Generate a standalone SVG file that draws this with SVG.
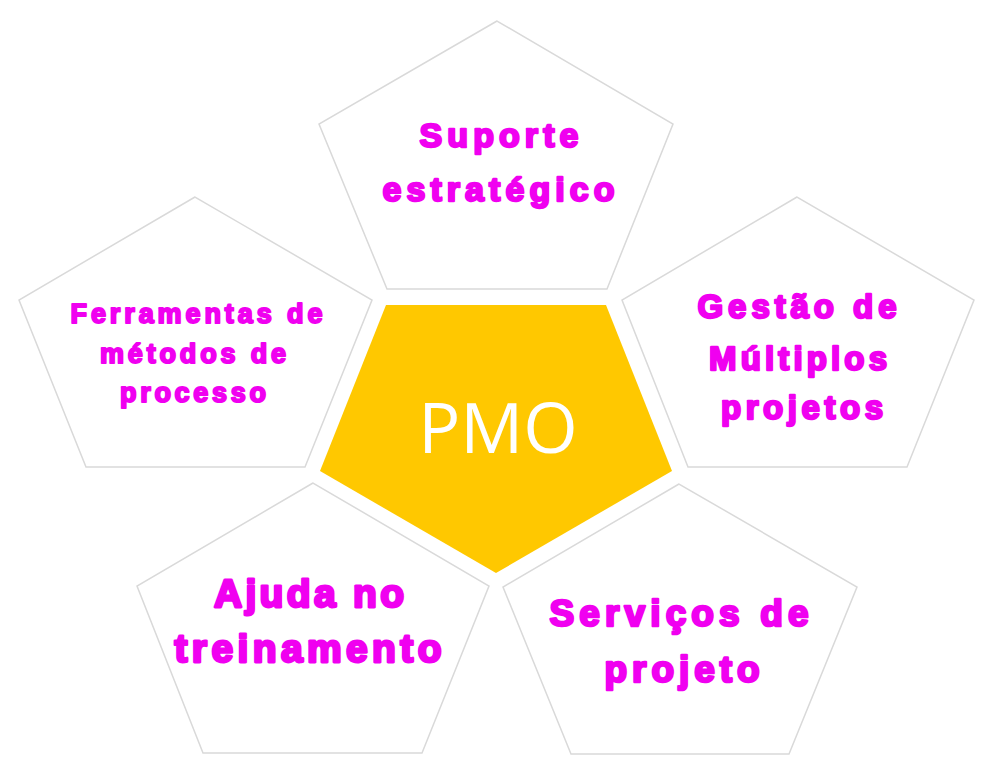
<svg xmlns="http://www.w3.org/2000/svg" width="1002" height="778" viewBox="0 0 1002 778">
<style>
.pent{fill:#ffffff;stroke:#d9d9d9;stroke-width:1.5;stroke-linejoin:miter}
.lbl{font-family:"Liberation Sans",Arial,sans-serif;font-weight:900;fill:#f000f0;stroke:#f000f0;stroke-width:2.4;stroke-linejoin:round;text-anchor:middle}
.core{font-family:"Open Sans","Noto Sans",sans-serif;fill:#ffffff;text-anchor:middle}
</style>
<rect width="1002" height="778" fill="#ffffff"/>
<g id="node-suporte">
<polygon class="pent" points="497,21 319,124 387,289 607,289 673,124"/>
<text class="lbl" font-size="34"><tspan x="499" y="147" textLength="159" lengthAdjust="spacing">Suporte</tspan><tspan x="498.5" y="201" textLength="232" lengthAdjust="spacing">estratégico</tspan></text>
</g>
<g id="node-ferramentas">
<polygon class="pent" points="195,197 19,300 86,467 305,467 372,300"/>
<text class="lbl" font-size="27" style="stroke-width:2"><tspan x="196.5" y="323" textLength="252" lengthAdjust="spacing">Ferramentas de</tspan><tspan x="193" y="363" textLength="186" lengthAdjust="spacing">métodos de</tspan><tspan x="193" y="402" textLength="146" lengthAdjust="spacing">processo</tspan></text>
</g>
<g id="node-gestao">
<polygon class="pent" points="797,197 622,300 688,467 907,467 974,300"/>
<text class="lbl" font-size="33"><tspan x="797" y="318" textLength="199" lengthAdjust="spacing">Gestão de</tspan><tspan x="798" y="370" textLength="178" lengthAdjust="spacing">Múltiplos</tspan><tspan x="802" y="419" textLength="162" lengthAdjust="spacing">projetos</tspan></text>
</g>
<g id="node-ajuda">
<polygon class="pent" points="313,483 137,586 203,753 422,753 489,586"/>
<text class="lbl" font-size="39" style="stroke-width:2.8"><tspan x="309" y="607" textLength="190" lengthAdjust="spacing">Ajuda no</tspan><tspan x="308" y="662" textLength="267" lengthAdjust="spacing">treinamento</tspan></text>
</g>
<g id="node-servicos">
<polygon class="pent" points="679,484 503,587 571,754 789,754 857,587"/>
<text class="lbl" font-size="37" style="stroke-width:2.6"><tspan x="679" y="626" textLength="259" lengthAdjust="spacing">Serviços de</tspan><tspan x="682" y="682" textLength="155" lengthAdjust="spacing">projeto</tspan></text>
</g>
<g id="node-pmo">
<polygon points="386,305 606,305 672,471 496,573 320,471" fill="#ffc800"/>
<text class="core" x="498" y="453" font-size="70">PMO</text>
</g>
<g id="connectors"></g>
</svg>
